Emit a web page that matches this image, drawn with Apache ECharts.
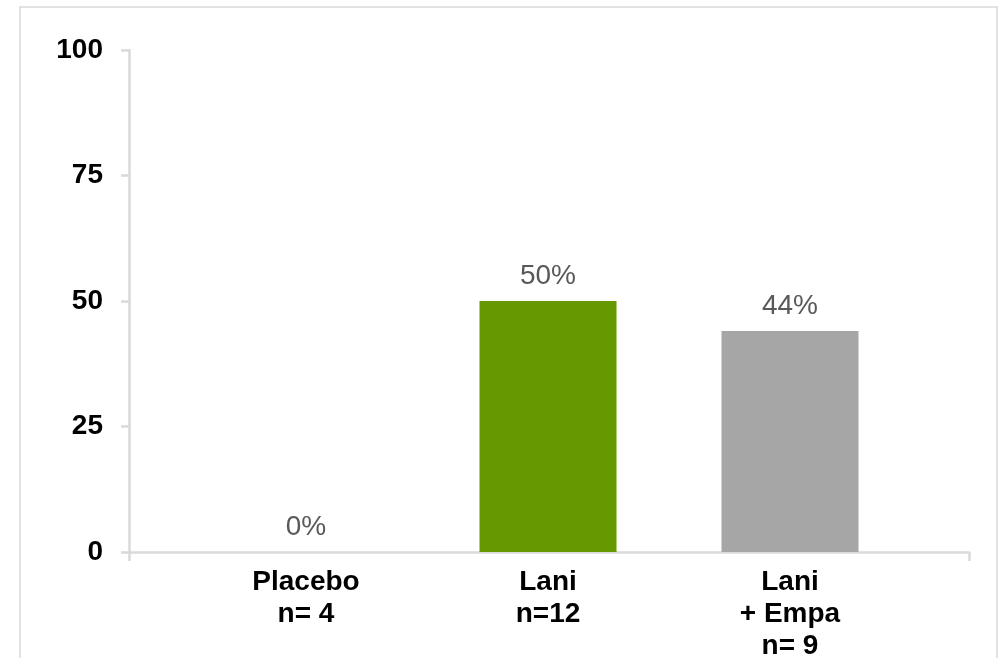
<!DOCTYPE html>
<html>
<head>
<meta charset="utf-8">
<script src="https://cdn.jsdelivr.net/npm/echarts@6/dist/echarts.min.js"></script>
<style>
  html, body { margin: 0; padding: 0; background: #ffffff; }
  #main { width: 1000px; height: 658px; }
</style>
</head>
<body>
<div id="main"></div>
<script>
// data
var categories = ['Placebo\nn= 4', 'Lani\nn=12', 'Lani\n+ Empa\nn= 9'];
var values = [0, 50, 44];
var yTicks = [0, 25, 50, 75, 100];

var barColors = ['#669900', '#669900', '#a6a6a6'];
var axisGray = '#d9d9d9';
var font = '"Liberation Sans", Arial, sans-serif';

var chart = echarts.init(document.getElementById('main'), null, { renderer: 'canvas' });

var option = {
  backgroundColor: '#ffffff',
  animation: false,
  graphic: [{
    // outer frame of the slide picture
    type: 'rect',
    shape: { x: 20, y: 7, width: 977, height: 700 },
    style: { fill: 'none', stroke: axisGray, lineWidth: 1.5 },
    silent: true
  }],
  grid: [
    // axes frame
    { left: 129, right: 31, top: 50, bottom: 106, outerBoundsMode: 'none' },
    // bars
    { left: 185, right: 89, top: 50, bottom: 106, outerBoundsMode: 'none' }
  ],
  xAxis: [{
    gridIndex: 0,
    type: 'value',
    min: 0,
    max: 1,
    interval: 1,
    axisLine: { show: true, onZero: false, lineStyle: { color: axisGray, width: 2.5 } },
    axisTick: { show: true, length: 9, lineStyle: { color: axisGray, width: 2.5 } },
    axisLabel: { show: false },
    splitLine: { show: false }
  }, {
    gridIndex: 1,
    type: 'category',
    data: categories,
    axisLine: { show: false },
    axisTick: { show: false },
    axisLabel: {
      margin: 14,
      color: '#000000',
      fontFamily: font,
      fontSize: 28,
      fontWeight: 'bold',
      lineHeight: 32,
      align: 'center'
    }
  }],
  yAxis: [{
    gridIndex: 0,
    type: 'value',
    min: yTicks[0],
    max: yTicks[yTicks.length - 1],
    interval: 25,
    axisLine: { show: true, lineStyle: { color: axisGray, width: 2.5 } },
    axisTick: { show: true, length: 8, lineStyle: { color: axisGray, width: 2.5 } },
    axisLabel: {
      margin: 26,
      color: '#000000',
      fontFamily: font,
      fontSize: 28,
      fontWeight: 'bold'
    },
    splitLine: { show: false }
  }, {
    gridIndex: 1,
    type: 'value',
    min: yTicks[0],
    max: yTicks[yTicks.length - 1],
    interval: 25,
    show: false
  }],
  series: [{
    type: 'bar',
    xAxisIndex: 1,
    yAxisIndex: 1,
    barWidth: 137,
    data: values.map(function (v, i) {
      return { value: v, itemStyle: { color: barColors[i] } };
    }),
    label: {
      show: true,
      position: 'top',
      distance: 11,
      color: '#595959',
      fontFamily: font,
      fontSize: 28,
      formatter: '{c}%'
    }
  }]
};

chart.setOption(option);
</script>
</body>
</html>
